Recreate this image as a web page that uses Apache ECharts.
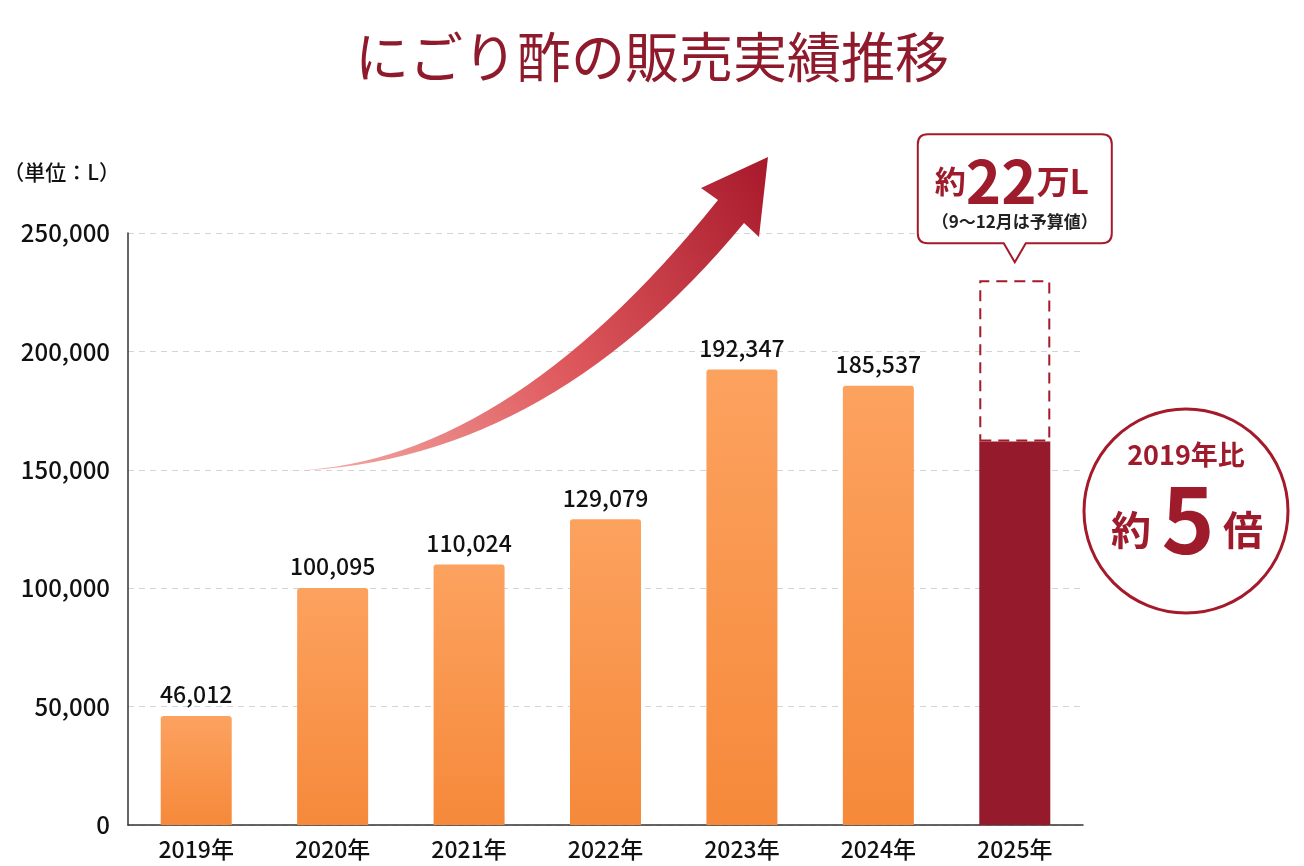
<!DOCTYPE html>
<html lang="ja">
<head>
    <meta charset="UTF-8">
    <title>にごり酢の販売実績推移</title>
    <script src="https://cdn.jsdelivr.net/npm/echarts@6/dist/echarts.min.js"></script>
    <style>
        html, body { margin: 0; padding: 0; background: #fff; }
        #main { width: 1304px; height: 866px; }
    </style>
</head>
<body>
<div id="main"></div>
<script type="text/javascript">
    // data
    var years = ['2019年', '2020年', '2021年', '2022年', '2023年', '2024年', '2025年'];
    var sales = [46012, 100095, 110024, 129079, 192347, 185537, 162000];
    var budgetRest = [null, null, null, null, null, null, 68000];
    var yTicks = [0, 50000, 100000, 150000, 200000, 250000];

    var FONT = '"Noto Sans CJK JP", "Noto Sans", sans-serif';
    var RED = '#9e1b2c';

    var myChart = echarts.init(document.getElementById('main'));

    var orange = new echarts.graphic.LinearGradient(0, 0, 0, 1, [
        {offset: 0, color: '#fca25f'},
        {offset: 1, color: '#f6893a'}
    ]);

    var salesData = sales.map(function (v, i) {
        if (i === sales.length - 1) {
            return {value: v, itemStyle: {color: '#951a2b', borderRadius: 0}, label: {show: false}};
        }
        return v;
    });

    option = {
        backgroundColor: '#fff',
        textStyle: {fontFamily: FONT},
        title: {
            text: 'にごり酢の販売実績推移',
            left: 'center',
            top: 25,
            textStyle: {color: '#8e1a2b', fontSize: 54, fontWeight: 'normal', fontFamily: FONT}
        },
        grid: {left: 128, right: 221, top: 233, bottom: 41},
        xAxis: {
            type: 'category',
            data: years,
            axisLine: {lineStyle: {color: '#333', width: 1.5}},
            axisTick: {show: false},
            axisLabel: {color: '#111', fontSize: 23, fontWeight: 500, margin: 13, fontFamily: FONT}
        },
        yAxis: {
            type: 'value',
            min: yTicks[0],
            max: yTicks[yTicks.length - 1],
            interval: yTicks[1] - yTicks[0],
            name: '（単位：L）',
            nameLocation: 'end',
            nameGap: 50,
            nameTextStyle: {color: '#111', fontSize: 21, fontWeight: 500, align: 'right', padding: [0, 8, 0, 0], fontFamily: FONT},
            axisLine: {show: true, lineStyle: {color: '#333', width: 1.5}},
            axisTick: {show: false},
            axisLabel: {
                color: '#111', fontSize: 24, fontWeight: 500, margin: 18, fontFamily: FONT,
                formatter: function (v) { return v.toLocaleString('en-US'); }
            },
            splitLine: {lineStyle: {color: '#d4d4d4', type: [6, 5], width: 1}}
        },
        series: [
            {
                name: '実績',
                type: 'bar',
                stack: 'total',
                barWidth: 71,
                z: 3,
                data: salesData,
                itemStyle: {color: orange, borderRadius: [3, 3, 0, 0]},
                label: {
                    show: true,
                    position: 'top',
                    distance: 10,
                    color: '#111',
                    fontSize: 23,
                    fontWeight: 500,
                    fontFamily: FONT,
                    formatter: function (p) { return p.value.toLocaleString('en-US'); }
                }
            },
            {
                name: '予算',
                type: 'bar',
                stack: 'total',
                barWidth: 71,
                z: 2,
                data: budgetRest,
                itemStyle: {
                    color: 'rgba(255,255,255,0)',
                    borderColor: '#a51a2a',
                    borderWidth: 2,
                    borderType: [11, 7]
                },
                silent: true
            }
        ]
    };
    myChart.setOption(option);

    // decorations placed from the 2025 bar position
    var last = years.length - 1;
    var cx = myChart.convertToPixel({xAxisIndex: 0}, years[last]);
    var topY = myChart.convertToPixel({yAxisIndex: 0}, sales[last] + budgetRest[last]);
    var tipY = topY - 18;
    var B = tipY - 19, T = B - 109, L = cx - 97, R = cx + 97, r = 10;
    var calloutPath = 'M' + (L + r) + ' ' + T + ' H' + (R - r) + ' Q' + R + ' ' + T + ' ' + R + ' ' + (T + r) +
        ' V' + (B - r) + ' Q' + R + ' ' + B + ' ' + (R - r) + ' ' + B +
        ' H' + (cx + 11) + ' L' + cx + ' ' + tipY + ' L' + (cx - 11) + ' ' + B +
        ' H' + (L + r) + ' Q' + L + ' ' + B + ' ' + L + ' ' + (B - r) +
        ' V' + (T + r) + ' Q' + L + ' ' + T + ' ' + (L + r) + ' ' + T + ' Z';
    var arrowPath = 'M278 471 Q500 472 718 200 L701 188 L768 157 L759 237 L744 223 Q540 470 278 471 Z';

    echarts.graphic.registerShape('growArrow', echarts.graphic.extendPath(arrowPath, {}));
    echarts.graphic.registerShape('callout', echarts.graphic.extendPath(calloutPath, {}));

    myChart.setOption({
        graphic: [
            {
                type: 'growArrow',
                style: {
                    fill: new echarts.graphic.LinearGradient(0, 1, 1, 0, [
                        {offset: 0, color: '#f5b3ae'},
                        {offset: 0.5, color: '#df5a5e'},
                        {offset: 1, color: '#a8192b'}
                    ])
                },
                z: 1
            },
            {
                type: 'callout',
                style: {fill: '#fff', stroke: '#a51a2a', lineWidth: 2},
                z: 10
            },
            {
                type: 'text',
                x: cx - 3,
                y: T + 47,
                style: {
                    text: '{a|約}{b|22}{c|万L}',
                    align: 'center',
                    verticalAlign: 'middle',
                    fill: RED,
                    rich: {
                        a: {fontSize: 31, fontWeight: 'bold', fill: RED, fontFamily: FONT},
                        b: {fontSize: 60, fontWeight: 'bold', fill: RED, fontFamily: FONT},
                        c: {fontSize: 33, fontWeight: 'bold', fill: RED, fontFamily: FONT}
                    }
                },
                z: 11
            },
            {
                type: 'text',
                x: cx,
                y: T + 87,
                style: {
                    text: '（9〜12月は予算値）',
                    align: 'center',
                    verticalAlign: 'middle',
                    fill: '#222',
                    font: 'bold 17px ' + FONT
                },
                z: 11
            },
            {
                type: 'circle',
                shape: {cx: 1186, cy: 511, r: 102},
                style: {fill: '#fff', stroke: '#a51a2a', lineWidth: 3},
                z: 10
            },
            {
                type: 'text',
                x: 1186,
                y: 455,
                style: {text: '2019年比', align: 'center', verticalAlign: 'middle', fill: RED, font: 'bold 27px ' + FONT},
                z: 11
            },
            {
                type: 'text',
                x: 1131,
                y: 530,
                style: {text: '約', align: 'center', verticalAlign: 'middle', fill: RED, font: 'bold 40px ' + FONT},
                z: 11
            },
            {
                type: 'text',
                x: 1188,
                y: 520,
                style: {text: '5', align: 'center', verticalAlign: 'middle', fill: RED, font: 'bold 90px ' + FONT},
                z: 11
            },
            {
                type: 'text',
                x: 1243,
                y: 530,
                style: {text: '倍', align: 'center', verticalAlign: 'middle', fill: RED, font: 'bold 40px ' + FONT},
                z: 11
            }
        ]
    });
</script>
</body>
</html>
